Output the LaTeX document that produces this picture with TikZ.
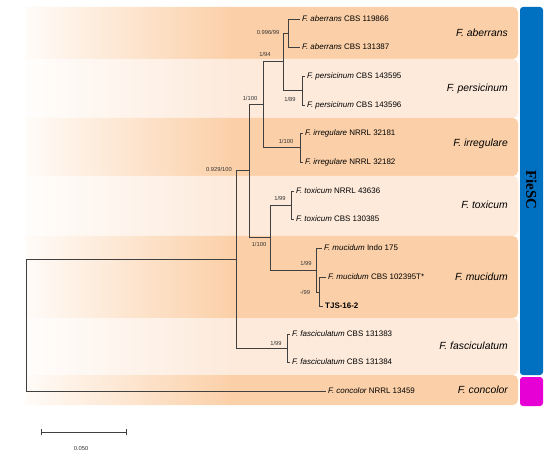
\documentclass[tikz,border=0pt]{standalone}
\usepackage{fontspec}
\setmainfont{Liberation Sans}
\newfontfamily\fiefont{Liberation Serif}
\definecolor{banddark}{HTML}{FBD0A8}
\definecolor{bandlight}{HTML}{FDEADB}
\definecolor{fiesc}{HTML}{0070C0}
\definecolor{concol}{HTML}{E600D6}
\definecolor{branch}{HTML}{404040}
\pgfdeclarehorizontalshading{darkfade}{100bp}{color(0bp)=(banddark!8); color(25bp)=(banddark!8); color(46bp)=(banddark); color(100bp)=(banddark)}
\pgfdeclarehorizontalshading{lightfade}{100bp}{color(0bp)=(bandlight!8); color(25bp)=(bandlight!8); color(46bp)=(bandlight); color(100bp)=(bandlight)}

\begin{document}
\begin{tikzpicture}[x=1bp, y=-1bp,
    br/.style={branch, line width=0.75bp},
    tip/.style={anchor=west, inner xsep=2bp, inner ysep=0pt, text height=6bp, text depth=1.5bp, font=\fontsize{8}{9.6}\selectfont},
    supp/.style={inner sep=0pt, font=\fontsize{5.8}{7}\selectfont, text=black!80},
    clade/.style={anchor=east, inner sep=0pt, font=\fontsize{10.4}{12}\selectfont\itshape}]
    \useasboundingbox (0,0) rectangle (550,458);

    % species bands
    \shade[shading=darkfade] (25,7) rectangle (60,59) [rounded corners=5bp] (25,7) rectangle (518,59);
    \shade[shading=lightfade] (25,59) rectangle (60,118) [rounded corners=5bp] (25,59) rectangle (518,118);
    \shade[shading=darkfade] (25,118) rectangle (60,176) [rounded corners=5bp] (25,118) rectangle (518,176);
    \shade[shading=lightfade] (25,176) rectangle (60,236) [rounded corners=5bp] (25,176) rectangle (518,236);
    \shade[shading=darkfade] (25,236) rectangle (60,318) [rounded corners=5bp] (25,236) rectangle (518,318);
    \shade[shading=lightfade] (25,318) rectangle (60,375) [rounded corners=5bp] (25,318) rectangle (518,375);
    \shade[shading=darkfade] (25,375) rectangle (60,405) [rounded corners=5bp] (25,375) rectangle (518,405);

    % complex bars
    \fill[fiesc, rounded corners=3bp] (520,7) rectangle (543,375);
    \fill[concol, rounded corners=3bp] (520,377) rectangle (543,406);
    \node[rotate=-90, inner sep=0pt, font=\fiefont\bfseries\fontsize{15}{18}\selectfont] (fiesclab) at (531.5,190) {FieSC};

    % inner nodes
    \coordinate (root) at (26,325);
    \coordinate (A) at (236,259);
    \coordinate (B) at (249,170);
    \coordinate (C) at (263,104);
    \coordinate (F) at (283,61);
    \coordinate (E) at (288,33);
    \coordinate (G) at (302,90);
    \coordinate (H) at (300,147);
    \coordinate (D) at (270,237);
    \coordinate (I) at (291,205);
    \coordinate (J) at (316,270);
    \coordinate (K) at (319,292);
    \coordinate (L) at (287,348);

    % tips
    \node[tip] (ab1) at (300,19) {\itshape F. aberrans\upshape{} CBS 119866};
    \node[tip] (ab2) at (300,47) {\itshape F. aberrans\upshape{} CBS 131387};
    \node[tip] (pe1) at (305,76) {\itshape F. persicinum\upshape{} CBS 143595};
    \node[tip] (pe2) at (305,105) {\itshape F. persicinum\upshape{} CBS 143596};
    \node[tip] (ir1) at (303,133) {\itshape F. irregulare\upshape{} NRRL 32181};
    \node[tip] (ir2) at (303,162) {\itshape F. irregulare\upshape{} NRRL 32182};
    \node[tip] (to1) at (294,191) {\itshape F. toxicum\upshape{} NRRL 43636};
    \node[tip] (to2) at (294,219) {\itshape F. toxicum\upshape{} CBS 130385};
    \node[tip] (mu1) at (322,248) {\itshape F. mucidum\upshape{} Indo 175};
    \node[tip] (mu2) at (326,277) {\itshape F. mucidum\upshape{} CBS 102395T*};
    \node[tip, font=\fontsize{8}{9.6}\selectfont\bfseries] (tjs) at (323,306) {TJS-16-2};
    \node[tip] (fa1) at (290,334) {\itshape F. fasciculatum\upshape{} CBS 131383};
    \node[tip] (fa2) at (290,362) {\itshape F. fasciculatum\upshape{} CBS 131384};
    \node[tip] (co) at (326,391) {\itshape F. concolor\upshape{} NRRL 13459};

    % branches
    \draw[br] (root) |- (A);
    \draw[br] (root) |- (co.west);
    \draw[br] (A) |- (B);
    \draw[br] (A) |- (L);
    \draw[br] (B) |- (C);
    \draw[br] (B) |- (D);
    \draw[br] (C) |- (F);
    \draw[br] (C) |- (H);
    \draw[br] (F) |- (E);
    \draw[br] (F) |- (G);
    \draw[br] (E) |- (ab1.west);
    \draw[br] (E) |- (ab2.west);
    \draw[br] (G) |- (pe1.west);
    \draw[br] (G) |- (pe2.west);
    \draw[br] (H) |- (ir1.west);
    \draw[br] (H) |- (ir2.west);
    \draw[br] (D) |- (I);
    \draw[br] (D) |- (J);
    \draw[br] (I) |- (to1.west);
    \draw[br] (I) |- (to2.west);
    \draw[br] (J) |- (mu1.west);
    \draw[br] (J) |- (K);
    \draw[br] (K) |- (mu2.west);
    \draw[br] (K) |- (tjs.west);
    \draw[br] (L) |- (fa1.west);
    \draw[br] (L) |- (fa2.west);

    % support values
    \node[supp, anchor=east] (sA) at (232,169) {0.929/100};
    \node[supp] (sB) at (250,98) {1/100};
    \node[supp] (sC) at (265,54) {1/94};
    \node[supp] (sF) at (268,32) {0.996/99};
    \node[supp] (sG) at (290,99) {1/89};
    \node[supp] (sH) at (286,141) {1/100};
    \node[supp] (sD) at (259,244) {1/100};
    \node[supp] (sI) at (280,198) {1/99};
    \node[supp] (sJ) at (306,263) {1/99};
    \node[supp] (sK) at (305,292) {-/99};
    \node[supp] (sL) at (276,343) {1/99};

    % clade names
    \node[clade] (cab) at (508,33) {F. aberrans};
    \node[clade] (cpe) at (508,89) {F. persicinum};
    \node[clade] (cir) at (508,144) {F. irregulare};
    \node[clade] (cto) at (508,205) {F. toxicum};
    \node[clade] (cmu) at (508,277) {F. mucidum};
    \node[clade] (cfa) at (508,346) {F. fasciculatum};
    \node[clade] (cco) at (508,390) {F. concolor};

    % scale bar
    \coordinate (sb1) at (41,432);
    \coordinate (sb2) at (127,432);
    \draw[br, |-|] (sb1) -- (sb2);
    \node[supp] (sblab) at (81,449) {0.050};
\end{tikzpicture}
\end{document}
